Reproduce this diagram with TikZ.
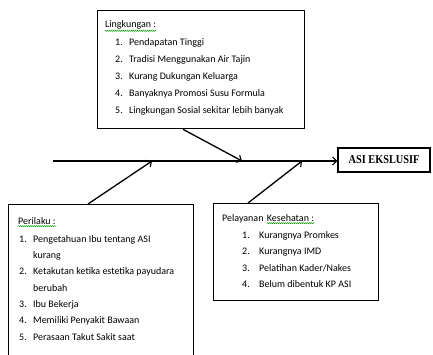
\documentclass[tikz,border=0pt]{standalone}
\usepackage{fontspec}
\setmainfont{Carlito}
\newfontfamily\titlefont{Liberation Serif}
\usetikzlibrary{arrows.meta,decorations.pathmorphing}
\tikzset{
  box/.style={draw=black, line width=1.3pt, fill=white, anchor=north west, inner sep=0pt},
  conn/.style={line width=1.3pt, -{Straight Barb[length=4pt,width=8pt,line width=1.1pt]}},
  txt/.style={anchor=mid west, inner sep=0pt, font=\fontsize{10}{12}\selectfont},
  squig/.style={draw=green!60!black, line width=0.5pt, decorate, decoration={snake, amplitude=0.5pt, segment length=2pt}}
}
\begin{document}
\begin{tikzpicture}[x=1pt,y=-1pt]
\useasboundingbox (0,0) rectangle (433,354);
\clip (0,0) rectangle (433,354);
\fill[white] (0,0) rectangle (433,354);

% boxes
\node[box, minimum width=207pt, minimum height=118pt] (lk) at (97,10) {};
\node[box, minimum width=185pt, minimum height=170pt] (pr) at (8,204) {};
\node[box, minimum width=165pt, minimum height=97pt] (pk) at (213,203) {};
\node[draw=black, line width=1.3pt, minimum width=92pt, minimum height=24pt, inner sep=0pt] (asi) at (384,160)
  {\titlefont\bfseries\fontsize{12}{14}\selectfont\scalebox{0.86}[1]{ASI EKSLUSIF}};

% main spine
\coordinate (spine) at (53,161);
\draw[conn] (spine) -- (spine -| asi.west);

% tips on the spine
\coordinate (tipA) at (242,161);
\coordinate (tipB) at (152,161);
\coordinate (tipC) at (302,161);
\draw[conn] ([xshift=86pt]lk.south west) -- (tipA);
\draw[conn] ([xshift=80pt]pr.north west) -- (tipB);
\draw[conn] ([xshift=35pt]pk.north west) -- (tipC);

% Lingkungan text
\node[txt] (lkh) at (105,25) {Lingkungan :};
\draw[squig] ([yshift=-1.5pt]lkh.south west) -- ([yshift=-1.5pt]lkh.south east);
\node[txt] (lk1n) at (115,43) {1.};
\node[txt] (lk1) at (129,43) {Pendapatan Tinggi};
\node[txt] (lk2n) at (115,60) {2.};
\node[txt] (lk2) at (129,60) {Tradisi Menggunakan Air Tajin};
\node[txt] (lk3n) at (115,77) {3.};
\node[txt] (lk3) at (129,77) {Kurang Dukungan Keluarga};
\node[txt] (lk4n) at (115,94) {4.};
\node[txt] (lk4) at (129,94) {Banyaknya Promosi Susu Formula};
\node[txt] (lk5n) at (115,111) {5.};
\node[txt] (lk5) at (129,111) {Lingkungan Sosial sekitar lebih banyak};

% Perilaku text
\node[txt] (prh) at (18,222) {Perilaku :};
\draw[squig] ([yshift=-1.5pt]prh.south west) -- ([yshift=-1.5pt]prh.south east);
\node[txt] (pr1n) at (19,240) {1.};
\node[txt] (pr1) at (33,240) {Pengetahuan Ibu tentang ASI};
\node[txt] (pr1b) at (33,256) {kurang};
\node[txt] (pr2n) at (19,272) {2.};
\node[txt] (pr2) at (33,272) {Ketakutan ketika estetika payudara};
\node[txt] (pr2b) at (33,289) {berubah};
\node[txt] (pr3n) at (19,305) {3.};
\node[txt] (pr3) at (33,305) {Ibu Bekerja};
\node[txt] (pr4n) at (19,321) {4.};
\node[txt] (pr4) at (33,321) {Memiliki Penyakit Bawaan};
\node[txt] (pr5n) at (19,338) {5.};
\node[txt] (pr5) at (33,338) {Perasaan Takut Sakit saat};

% Pelayanan text
\node[txt] (pkh) at (222,219) {Pelayanan};
\node[txt] (pkh2) at ([xshift=3pt]pkh.mid east) {Kesehatan :};
\draw[squig] ([yshift=-1.5pt]pkh2.south west) -- ([yshift=-1.5pt]pkh2.south east);
\node[txt] (pk1n) at (242,236) {1.};
\node[txt] (pk1) at (259,236) {Kurangnya Promkes};
\node[txt] (pk2n) at (242,252) {2.};
\node[txt] (pk2) at (259,252) {Kurangnya IMD};
\node[txt] (pk3n) at (242,269) {3.};
\node[txt] (pk3) at (259,269) {Pelatihan Kader/Nakes};
\node[txt] (pk4n) at (242,285) {4.};
\node[txt] (pk4) at (259,285) {Belum dibentuk KP ASI};
\end{tikzpicture}
\end{document}
